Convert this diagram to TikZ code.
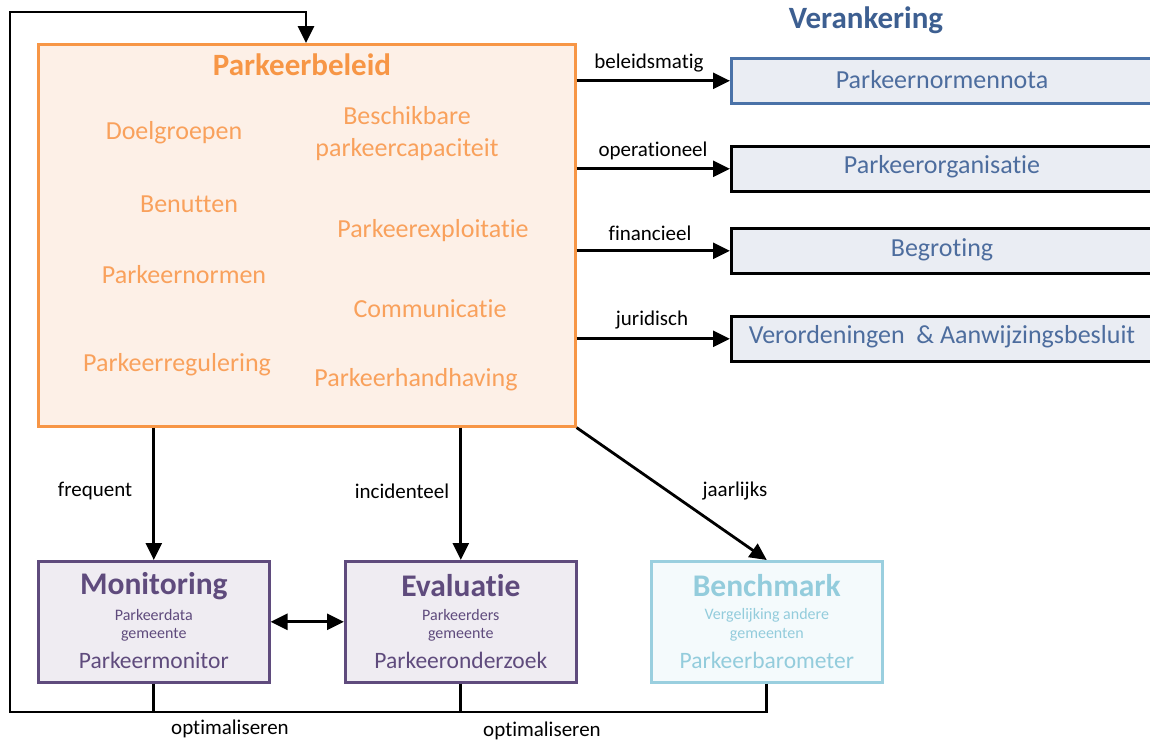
\documentclass[tikz,border=0pt]{standalone}
\usepackage{fontspec}
\setmainfont{Carlito}[Ligatures={NoCommon}]
\usetikzlibrary{arrows.meta}
\definecolor{orBorder}{HTML}{F79646}
\definecolor{orFill}{HTML}{FDF0E7}
\definecolor{orText}{HTML}{F9A15C}
\definecolor{blBorder}{HTML}{4A72A8}
\definecolor{blFill}{HTML}{EAEDF3}
\definecolor{blText}{HTML}{4D6D9E}
\definecolor{blTitle}{HTML}{3D5F91}
\definecolor{puBorder}{HTML}{5F4B7D}
\definecolor{puFill}{HTML}{EFECF2}
\definecolor{puText}{HTML}{5F4B7D}
\definecolor{cyBorder}{HTML}{9ACFDF}
\definecolor{cyFill}{HTML}{F4FAFC}
\definecolor{cyText}{HTML}{93CCDC}
\newcommand\fsz[2]{\fontsize{#1}{#2}\selectfont}
\begin{document}
\begin{tikzpicture}[x=1pt,y=-1pt,
  ln/.style={line width=2.8pt},
  arr/.style={line width=2.8pt,-{Triangle[length=17pt,width=16pt]}},
  darr/.style={line width=2.8pt,{Triangle[length=17pt,width=16pt]}-{Triangle[length=17pt,width=16pt]}},
  mainbox/.style={draw=orBorder,fill=orFill,line width=2.6pt,anchor=north west,inner sep=0pt},
  anchorbox/.style={draw=black,fill=blFill,line width=2.6pt,anchor=north west,inner sep=0pt,minimum width=424pt,minimum height=45pt},
  itemtxt/.style={text=orText,font=\fsz{26}{32},align=center,inner sep=0pt},
  anctxt/.style={text=blText,font=\fsz{26}{30},inner sep=0pt},
  lbl/.style={text=black,font=\fsz{21}{24},inner sep=0pt},
  subbox/.style={line width=2.6pt,anchor=north west,inner sep=0pt,minimum width=231pt,minimum height=121pt},
  subtitle/.style={font=\bfseries\fsz{31.5}{34},inner sep=0pt},
  subsmall/.style={font=\fsz{16}{18},inner sep=0pt},
  subname/.style={font=\fsz{23.5}{26},inner sep=0pt}]
\useasboundingbox (0,0) rectangle (1150,742);
\fill[white] (0,0) rectangle (1150,742);

% main box
\node[mainbox,minimum width=537pt,minimum height=382pt] (pb) at (37,43) {};
\node[text=orBorder,font=\bfseries\fsz{31}{34},inner sep=0pt] (pbt) at (302,65) {Parkeerbeleid};
\node[itemtxt] (i1) at (174,133) {Doelgroepen};
\node[itemtxt] (i2) at (407,134) {Beschikbare\\parkeercapaciteit};
\node[itemtxt] (i3) at (189,204) {Benutten};
\node[itemtxt] (i4) at (433,231) {Parkeerexploitatie};
\node[itemtxt] (i5) at (184,275) {Parkeernormen};
\node[itemtxt] (i6) at (430,309) {Communicatie};
\node[itemtxt] (i7) at (177,365) {Parkeerregulering};
\node[itemtxt] (i8) at (416,380) {Parkeerhandhaving};

% Verankering
\node[text=blTitle,font=\bfseries\fsz{31}{34},inner sep=0pt] (vt) at (866,20) {Verankering};
\node[anchorbox,draw=blBorder] (r1) at (730,57) {};
\node[anchorbox] (r2) at (730,145) {};
\node[anchorbox] (r3) at (730,227) {};
\node[anchorbox] (r4) at (730,315) {};
\node[anctxt] (r1t) at (942,80) {Parkeernormennota};
\node[anctxt] (r2t) at (942,167) {Parkeerorganisatie};
\node[anctxt] (r3t) at (942,250) {Begroting};
\node[anctxt] (r4t) at (942,337) {Verordeningen\ \ \& Aanwijzingsbesluit};

\draw[arr] (pb.east |- r1.west) -- (r1.west);
\draw[arr] (pb.east |- r2.west) -- (r2.west);
\draw[arr] (pb.east |- r3.west) -- (r3.west);
\draw[arr] (pb.east |- r4.west) -- (r4.west);
\node[lbl] (l1) at (649,63) {beleidsmatig};
\node[lbl] (l2) at (653,151) {operationeel};
\node[lbl] (l3) at (650,233) {financieel};
\node[lbl] (l4) at (652,320) {juridisch};

% bottom boxes
\node[subbox,draw=puBorder,fill=puFill] (mon) at (37,560) {};
\node[subbox,draw=puBorder,fill=puFill] (ev) at (344,560) {};
\node[subbox,draw=cyBorder,fill=cyFill] (bm) at (650,560) {};

\node[subtitle,text=puText] (mt) at (mon.center |- 0,586) {Monitoring};
\node[subsmall,text=puText] (ms1) at (mon.center |- 0,615) {Parkeerdata};
\node[subsmall,text=puText] (ms2) at (mon.center |- 0,635) {gemeente};
\node[subname,text=puText] (ms3) at (mon.center |- 0,660) {Parkeermonitor};

\node[subtitle,text=puText] (et) at (ev.center |- 0,586) {Evaluatie};
\node[subsmall,text=puText] (es1) at (ev.center |- 0,615) {Parkeerders};
\node[subsmall,text=puText] (es2) at (ev.center |- 0,635) {gemeente};
\node[subname,text=puText] (es3) at (ev.center |- 0,660) {Parkeeronderzoek};

\node[subtitle,text=cyText] (bt) at (bm.center |- 0,586) {Benchmark};
\node[subsmall,text=cyText] (bs1) at (bm.center |- 0,615) {Vergelijking andere};
\node[subsmall,text=cyText] (bs2) at (bm.center |- 0,635) {gemeenten};
\node[subname,text=cyText] (bs3) at (bm.center |- 0,660) {Parkeerbarometer};

% arrows down
\draw[arr] (pb.south -| mon.north) -- (mon.north);
\draw[arr] (pb.south -| ev.north) -- (ev.north);
\draw[arr] (pb.south east) -- (bm.north);
\node[lbl] (lf) at (95,491) {frequent};
\node[lbl] (li) at (402,491) {incidenteel};
\node[lbl] (lj) at (735,491) {jaarlijks};

\draw[darr] (mon.east) -- (ev.west);

% feedback loop
\coordinate (lb) at (10,712);
\coordinate (tp) at (306,12);
\draw[ln] (mon.south) -- (mon.south |- lb);
\draw[ln] (ev.south) -- (ev.south |- lb);
\draw[arr] (bm.south) |- (lb) |- (tp) -- (tp |- pb.north);
\node[lbl] (o1) at (230,729) {optimaliseren};
\node[lbl] (o2) at (542,731) {optimaliseren};
\end{tikzpicture}
\end{document}
